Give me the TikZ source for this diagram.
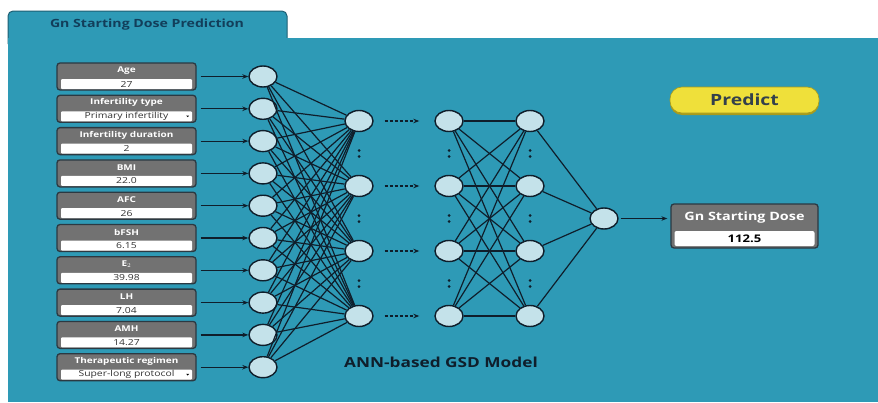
\documentclass[tikz,border=0pt]{standalone}
\usepackage{fontspec}
\setmainfont{Open Sans}[FakeStretch=1.25]
\usetikzlibrary{shapes.geometric,arrows.meta,shadows}
\definecolor{panel}{HTML}{2E9AB6}
\definecolor{tabedge}{HTML}{1E5F73}
\definecolor{neuron}{HTML}{C4E2EA}
\definecolor{ink}{HTML}{0F1E2B}
\definecolor{boxgray}{HTML}{727272}
\definecolor{boxedge}{HTML}{2B3942}
\definecolor{tabtext}{HTML}{123E5A}
\definecolor{btn}{HTML}{EFE03A}
\definecolor{btnshade}{HTML}{A89B1C}
\tikzset{
  unit/.style={ellipse,draw=ink,line width=1.4pt,fill=neuron,minimum width=28pt,minimum height=21pt,inner sep=0pt},
  inbox/.style={draw=boxedge,line width=1.3pt,fill=boxgray,rounded corners=3pt,minimum width=139pt,minimum height=27pt,inner sep=0pt},
  field/.style={fill=white,rounded corners=1pt,minimum width=131pt,minimum height=10pt,inner sep=0pt,text=black!80,font=\fontsize{8.3}{9}\selectfont},
  caption/.style={text=white,inner sep=0pt,font=\bfseries\fontsize{8}{9}\selectfont},
  link/.style={ink,line width=1.2pt},
  feed/.style={ink,line width=1.2pt,-{Stealth[length=6pt,width=4.5pt]}},
}
\begin{document}
\begin{tikzpicture}[x=1pt,y=-1pt]
\useasboundingbox (0,0) rectangle (878,402);
\fill[white] (0,0) rectangle (878,402);
% tab and panel
\path[fill=panel,draw=tabedge,line width=1pt,rounded corners=5pt] (8,44) -- (8,11) -- (287,11) -- (287,44);
\fill[panel] (8,38) rectangle (878,402);
\node[text=tabtext,font=\bfseries\fontsize{11.3}{12}\selectfont] (tab) at (147,25) {Gn Starting Dose Prediction};
% inputs
\foreach \name/\val/\menu [count=\i from 0] in {Age/27/0, Infertility type/Primary infertility/1,
  Infertility duration/2/0, BMI/22.0/0, AFC/26/0, bFSH/6.15/0, E$_2$/39.98/0, LH/7.04/0,
  AMH/14.27/0, Therapeutic regimen/Super-long protocol/1}{
  \node[inbox] (box\i) at (126.5,{76.5+32.3*\i}) {};
  \node[caption] (name\i) at ([yshift=6pt]box\i.center) {\name};
  \node[field] (val\i) at ([yshift=-7.5pt]box\i.center) {\val};
  \ifnum\menu=1
    \fill[black] ([xshift=-6pt,yshift=0.8pt]val\i.east) -- ++(3,0) -- ++(-1.5,1.6) -- cycle;
  \fi
  \node[unit] (in\i) at (263,{76.5+32.3*\i}) {};
  \draw[feed,shorten <=4pt] (box\i) -- (in\i);
}
% hidden layers
\foreach \j in {0,...,3}{
  \node[unit] (a\j) at (359,{121+65*\j}) {};
  \node[unit] (b\j) at (449,{121+65*\j}) {};
  \node[unit] (c\j) at (530,{121+65*\j}) {};
  \draw[feed,densely dashed,shorten <=11pt,shorten >=15pt] (a\j) -- (b\j);
}
\node[unit] (out) at (604,218.5) {};
\foreach \i in {0,...,9}
  \foreach \j in {0,...,3}
    \draw[link] (in\i) -- (a\j);
\foreach \j in {0,...,3}{
  \foreach \k in {0,...,3}
    \draw[link] (b\j) -- (c\k);
  \draw[link] (c\j) -- (out);
}
\foreach \x in {359,449,530}
  \foreach \y in {153.5,218.5,283.5}
    \fill[ink] (\x,\y-3) circle (1.5) (\x,\y+3) circle (1.5);
\node[text=ink,font=\bfseries\fontsize{13.8}{15}\selectfont] (model) at (441,362) {ANN-based GSD Model};
% output
\node[fill=btn,draw=btnshade,line width=0.6pt,rounded corners=12pt,minimum width=149pt,minimum height=26pt,
  drop shadow={shadow xshift=0pt,shadow yshift=-2pt,fill=btnshade,opacity=1},
  font=\bfseries\fontsize{15.5}{18}\selectfont,text=ink!85] (predict) at (744.5,100) {Predict};
\node[inbox,minimum width=147pt,minimum height=44pt] (res) at (744.5,226) {};
\node[caption,font=\bfseries\fontsize{11.5}{12}\selectfont] (restitle) at ([yshift=8pt]res.center) {Gn Starting Dose};
\node[field,rounded corners=2pt,minimum width=140pt,minimum height=15pt,text=black,
  font=\bfseries\fontsize{10.5}{12}\selectfont] (dose) at ([yshift=-12.5pt]res.center) {112.5};
\draw[feed,shorten <=2pt,shorten >=3pt] (out) -- (out -| res.west);
\end{tikzpicture}
\end{document}
